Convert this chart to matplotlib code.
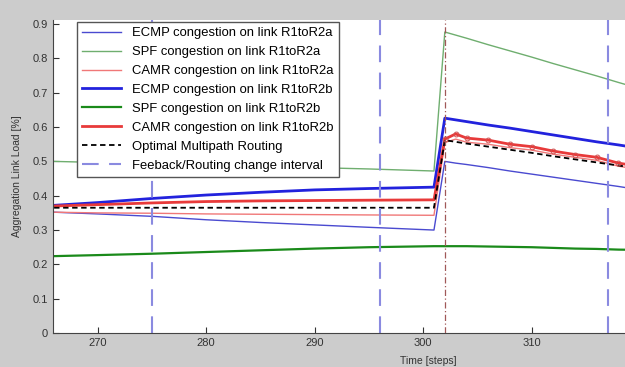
import matplotlib
matplotlib.use("Agg")
import matplotlib.pyplot as plt

# time axis (steps), before and after the routing change
t_pre = [266, 270, 275, 280, 285, 290, 295, 301]
t_post = [302, 303, 304, 306, 308, 310, 312, 314, 316, 318, 320]

# link loads
ecmp_a = [0.352, 0.347, 0.340, 0.330, 0.322, 0.315, 0.308, 0.300,
          0.500, 0.495, 0.491, 0.482, 0.472, 0.463, 0.454, 0.445, 0.436, 0.427, 0.417]
spf_a = [0.500, 0.497, 0.494, 0.490, 0.486, 0.482, 0.478, 0.472,
         0.877, 0.868, 0.859, 0.840, 0.822, 0.804, 0.785, 0.767, 0.749, 0.730, 0.712]
camr_a = [0.352, 0.350, 0.349, 0.347, 0.346, 0.345, 0.344, 0.343,
          0.555, 0.565, 0.556, 0.550, 0.540, 0.533, 0.521, 0.512, 0.503, 0.486, 0.476]
ecmp_b = [0.372, 0.380, 0.392, 0.402, 0.410, 0.417, 0.421, 0.425,
          0.626, 0.621, 0.616, 0.606, 0.597, 0.587, 0.577, 0.567, 0.557, 0.548, 0.538]
spf_b = [0.224, 0.227, 0.231, 0.236, 0.241, 0.246, 0.250, 0.253,
         0.253, 0.253, 0.253, 0.252, 0.251, 0.250, 0.248, 0.246, 0.245, 0.243, 0.242]
camr_b = [0.370, 0.374, 0.379, 0.383, 0.385, 0.386, 0.387, 0.388,
          0.565, 0.580, 0.568, 0.562, 0.550, 0.543, 0.530, 0.520, 0.512, 0.495, 0.485]
optimal = [0.365, 0.365, 0.365, 0.365, 0.365, 0.365, 0.365, 0.365,
           0.562, 0.557, 0.552, 0.543, 0.534, 0.525, 0.515, 0.506, 0.497, 0.488, 0.479]

feedback_steps = [275, 296, 317]
change_step = 302

x_ticks = [270, 280, 290, 300, 310]
y_ticks = [0, 0.1, 0.2, 0.3, 0.4, 0.5, 0.6, 0.7, 0.8, 0.9]

plt.rcParams['font.family'] = ['Liberation Sans', 'DejaVu Sans']

t = t_pre + t_post
fig = plt.figure(figsize=(6.25, 3.67), dpi=100, facecolor='#cccccc')
ax = fig.add_axes([0.0848, 0.0926, 0.9152, 0.8529])

ax.plot(t, ecmp_a, color='#4a4ad0', lw=1.0, label='ECMP congestion on link R1toR2a')
ax.plot(t, spf_a, color='#6fae6f', lw=1.0, label='SPF congestion on link R1toR2a')
ax.plot(t, camr_a, color='#f07878', lw=1.0, label='CAMR congestion on link R1toR2a')
ax.plot(t, ecmp_b, color='#2222dd', lw=2.0, label='ECMP congestion on link R1toR2b')
ax.plot(t, spf_b, color='#1a8a1a', lw=1.6, label='SPF congestion on link R1toR2b')
ax.plot(t, camr_b, color='#e83a3a', lw=2.0, label='CAMR congestion on link R1toR2b')
ax.plot(t, optimal, color='black', lw=1.3, ls=(0, (3, 2)), label='Optimal Multipath Routing')
ax.plot(t_post, camr_b[len(t_pre):], ls='none', marker='o', ms=3.5, mfc='none',
        mec='#d05050', mew=0.7)

for i, s in enumerate(feedback_steps):
    ax.axvline(s, color='#8a8ae0', lw=1.5, ls=(0, (8, 5)),
               label='Feeback/Routing change interval' if i == 0 else None)
ax.axvline(change_step, color='#a05858', lw=0.9, ls=(0, (5, 2, 1, 2)))

ax.set_xlim(265.9, 318.6)
ax.set_ylim(0, 0.912)
ax.set_xticks(x_ticks)
ax.set_yticks(y_ticks)
ax.set_yticklabels(['0', '0.1', '0.2', '0.3', '0.4', '0.5', '0.6', '0.7', '0.8', '0.9'])
ax.tick_params(direction='in', length=4, labelsize=8, colors='#333333')
for side in ['top', 'right']:
    ax.spines[side].set_visible(False)
for side in ['left', 'bottom']:
    ax.spines[side].set_color('#444444')

ax.set_xlabel('Time [steps]', fontsize=7.5, color='#333333')
ax.xaxis.set_label_coords(0.656, -0.075)
ax.set_ylabel('Aggregation Link Load [%]', fontsize=7.5, color='#333333', labelpad=8)

leg = ax.legend(loc='upper left', bbox_to_anchor=(0.042, 0.994), borderaxespad=0,
                fontsize=9.4, handlelength=3.0, labelspacing=0.52, fancybox=False,
                framealpha=1, edgecolor='#555555')
leg.get_frame().set_linewidth(1.0)

fig.savefig('out.png', dpi=100, facecolor=fig.get_facecolor())
